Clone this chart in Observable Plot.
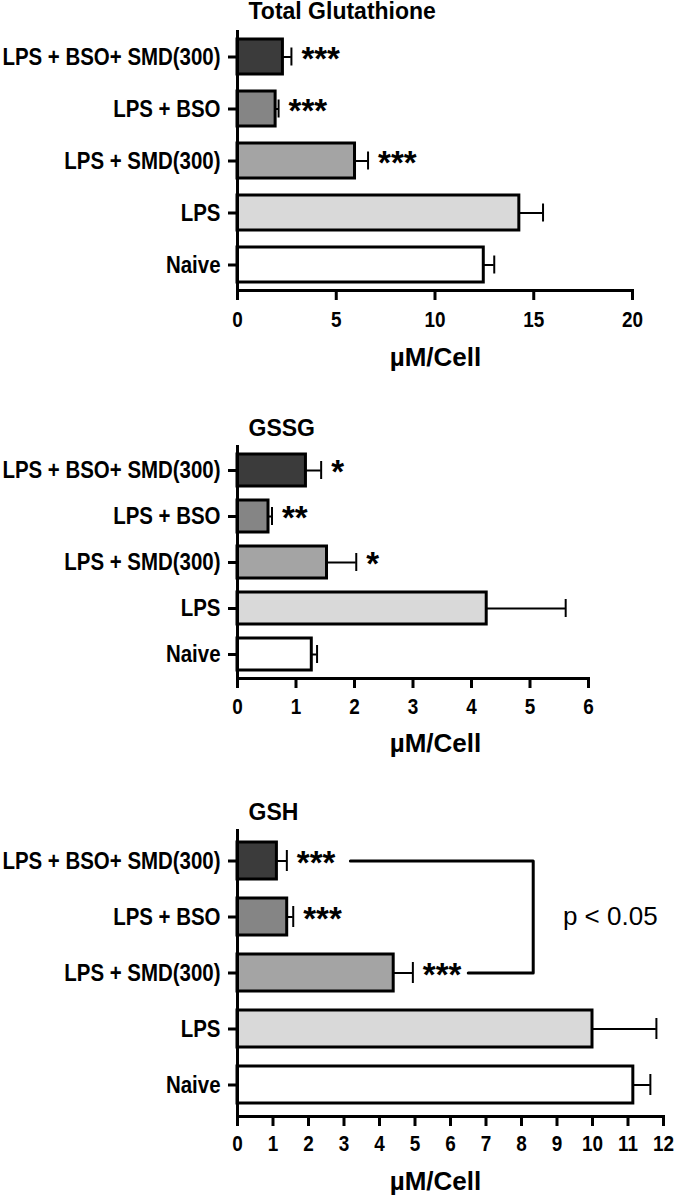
<!DOCTYPE html>
<html>
<head>
<meta charset="utf-8">
<script src="https://cdn.jsdelivr.net/npm/d3@7"></script>
<script src="https://cdn.jsdelivr.net/npm/@observablehq/plot@0.6"></script>
<style>
  html, body { margin: 0; padding: 0; background: #fff; }
  #wrap { position: relative; width: 676px; height: 1200px; background: #fff; }
  #wrap svg { position: absolute; left: 0; overflow: visible; }
</style>
</head>
<body>
<div id="wrap"></div>
<script>
// ---- data ----
const categories = ["LPS + BSO+ SMD(300)", "LPS + BSO", "LPS + SMD(300)", "LPS", "Naive"];
const barFills = ["#3b3b3b", "#858585", "#a4a4a4", "#d9d9d9", "#ffffff"];

const totalMean = [2.3, 1.93, 5.95, 14.27, 12.47];
const totalErr  = [0.43, 0.15, 0.66, 1.2, 0.53];
const totalSig  = ["***", "***", "***", "", ""];
const totalTicks = [0, 5, 10, 15, 20];

const gssgMean = [1.17, 0.53, 1.53, 4.26, 1.27];
const gssgErr  = [0.26, 0.06, 0.5, 1.35, 0.09];
const gssgSig  = ["*", "**", "*", "", ""];
const gssgTicks = [0, 1, 2, 3, 4, 5, 6];

const gshMean = [1.11, 1.4, 4.4, 10.0, 11.15];
const gshErr  = [0.28, 0.17, 0.54, 1.8, 0.48];
const gshSig  = ["***", "***", "***", "", ""];
const gshTicks = [0, 1, 2, 3, 4, 5, 6, 7, 8, 9, 10, 11, 12];

// bracket in GSH panel
const bracketX = [3.18, 8.33, 8.33, 6.5];
const bracketCat = ["LPS + BSO+ SMD(300)", "LPS + BSO+ SMD(300)", "LPS + SMD(300)", "LPS + SMD(300)"];
const pLabel = "p < 0.05";
const pLabelX = 10.5;
const pLabelCat = "LPS + BSO";

const xLabel = "µM/Cell";
const FONT = "'Liberation Sans', Arial, Helvetica, sans-serif";

// horizontally condense text (the original uses a narrow bold face)
function condense(root, selector, s) {
  root.querySelectorAll(selector).forEach(el => {
    const b = el.getBBox();
    const anchor = getComputedStyle(el).textAnchor;
    const px = anchor === "end" ? b.x + b.width : anchor === "middle" ? b.x + b.width / 2 : b.x;
    const t = el.getAttribute("transform") || "";
    el.setAttribute("transform", `${t} translate(${px},0) scale(${s},1) translate(${-px},0)`);
  });
}

function panel(cfg) {
  const rows = categories.map((c, i) => ({
    cat: c, mean: cfg.mean[i], high: cfg.mean[i] + cfg.err[i], sig: cfg.sig[i], fill: barFills[i]
  }));
  const marks = [
    Plot.barX(rows, {y: "cat", x1: 0, x2: "mean", fill: "fill", stroke: "#000", strokeWidth: 3}),
    Plot.ruleY(rows, {y: "cat", x1: "mean", x2: "high", stroke: "#000", strokeWidth: 2}),
    Plot.tickX(rows, {y: "cat", x: "high", stroke: "#000", strokeWidth: 2, insetTop: cfg.capInset, insetBottom: cfg.capInset}),
    Plot.text(rows, {y: "cat", x: "high", text: "sig", dx: 10, dy: 2, textAnchor: "start", fontSize: 33, fontWeight: "bold", fill: "#000"}),
    Plot.ruleX([0], {stroke: "#000", strokeWidth: 3}),
    Plot.frame({anchor: "bottom", stroke: "#000", strokeWidth: 3}),
    Plot.axisY({tickSize: 9, tickPadding: 8, strokeWidth: 3, fontSize: 23.5, fontWeight: "bold", label: null}),
    Plot.axisX({ticks: cfg.ticks, tickSize: 10, tickPadding: cfg.tickPad, strokeWidth: 3, fontSize: 22, fontWeight: "bold", label: null, tickFormat: d => String(d)}),
    Plot.text([cfg.title], {text: d => d, frameAnchor: "top-left", lineAnchor: "middle", dx: 11, dy: -cfg.titleDy, textAnchor: "start", fontSize: 23, fontWeight: "bold", fill: "#000"}),
    Plot.text([xLabel], {text: d => d, frameAnchor: "bottom-left", lineAnchor: "middle", dx: 198, dy: cfg.labelDy, textAnchor: "middle", fontSize: 26, fontWeight: "bold", fill: "#000", ariaLabel: "xlabel"})
  ];
  if (cfg.extra) marks.push(...cfg.extra);
  const svg = Plot.plot({
    width: 676,
    height: cfg.height,
    marginLeft: 237,
    marginRight: cfg.marginRight,
    marginTop: cfg.marginTop,
    marginBottom: cfg.marginBottom,
    style: {fontFamily: FONT, color: "#000", background: "transparent", overflow: "visible"},
    x: {domain: [0, cfg.max], axis: null},
    y: {domain: categories, paddingInner: cfg.pi, paddingOuter: cfg.po, axis: null},
    marks
  });
  svg.style.top = cfg.top + "px";
  document.getElementById("wrap").appendChild(svg);
  condense(svg, 'g[aria-label="y-axis tick label"] text', 0.87);
  condense(svg, 'g[aria-label="x-axis tick label"] text', 0.86);
  condense(svg, 'g[aria-label="xlabel"] text', 0.9);
}

panel({
  title: "Total Glutathione", mean: totalMean, err: totalErr, sig: totalSig, ticks: totalTicks, max: 20,
  top: 0, height: 380, marginTop: 30, marginBottom: 90, marginRight: 44,
  pi: 0.333, po: 0.143, capInset: 8.5, tickPad: 11, titleDy: 19, labelDy: 67
});

panel({
  title: "GSSG", mean: gssgMean, err: gssgErr, sig: gssgSig, ticks: gssgTicks, max: 6,
  top: 380, height: 390, marginTop: 65, marginBottom: 92, marginRight: 88,
  pi: 0.308, po: 0.173, capInset: 7, tickPad: 10, titleDy: 17, labelDy: 65,
});

panel({
  title: "GSH", mean: gshMean, err: gshErr, sig: gshSig, ticks: gshTicks, max: 12,
  top: 770, height: 430, marginTop: 59, marginBottom: 84, marginRight: 13,
  pi: 0.333, po: 0.193, capInset: 8, tickPad: 9, titleDy: 17, labelDy: 65,
  extra: [
    Plot.line(bracketX.map((x, i) => ({x, cat: bracketCat[i]})), {x: "x", y: "cat", stroke: "#000", strokeWidth: 3}),
    Plot.text([pLabel], {text: d => d, x: () => pLabelX, y: () => pLabelCat, fontSize: 26, fill: "#000", textAnchor: "middle"})
  ]
});
</script>
</body>
</html>
